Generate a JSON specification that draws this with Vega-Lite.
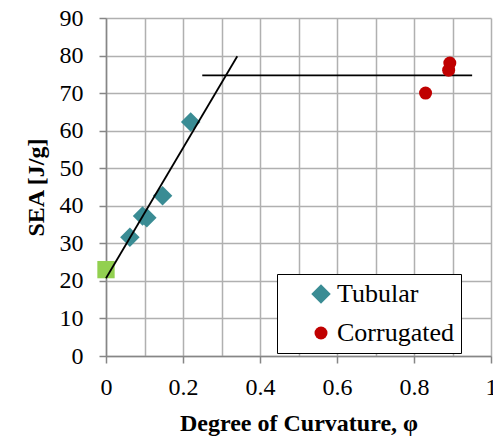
{
  "$schema": "https://vega.github.io/schema/vega-lite/v6.json",
  "width": 385,
  "height": 338,
  "autosize": "none",
  "padding": {"left": 106, "top": 18, "right": 2, "bottom": 84},
  "background": "white",
  "config": {
    "view": {"stroke": null},
    "font": "Liberation Serif",
    "legend": {"labelFont": "Liberation Serif", "labelFontSize": 26, "labelColor": "black"},
    "axis": {
      "labelFont": "Liberation Serif",
      "labelFontSize": 24,
      "labelColor": "black",
      "titleFont": "Liberation Serif",
      "titleFontSize": 24,
      "titleFontWeight": "bold",
      "titleColor": "black",
      "gridColor": "#B0B0B0",
      "gridWidth": 1.5,
      "domainColor": "#868686",
      "domainWidth": 1.5,
      "tickColor": "#868686",
      "tickWidth": 1.5,
      "tickSize": 7
    }
  },
  "datasets": {
    "points": [
      {"phi": 0, "sea": 23.0, "series": "Reference"},
      {"phi": 0.062, "sea": 31.6, "series": "Tubular"},
      {"phi": 0.095, "sea": 37.3, "series": "Tubular"},
      {"phi": 0.106, "sea": 36.8, "series": "Tubular"},
      {"phi": 0.147, "sea": 42.7, "series": "Tubular"},
      {"phi": 0.22, "sea": 62.3, "series": "Tubular"},
      {"phi": 0.83, "sea": 70.0, "series": "Corrugated"},
      {"phi": 0.89, "sea": 76.1, "series": "Corrugated"},
      {"phi": 0.893, "sea": 78.0, "series": "Corrugated"}
    ],
    "lines": [
      {"phi": 0, "sea": 20.7, "line": "fit"},
      {"phi": 0.341, "sea": 79.8, "line": "fit"},
      {"phi": 0.25, "sea": 74.7, "line": "level"},
      {"phi": 0.951, "sea": 74.7, "line": "level"}
    ]
  },
  "encoding": {
    "x": {
      "field": "phi",
      "type": "quantitative",
      "scale": {"domain": [0, 1], "nice": false, "zero": false},
      "axis": {
        "title": "Degree of Curvature, φ",
        "values": [0, 0.1, 0.2, 0.3, 0.4, 0.5, 0.6, 0.7, 0.8, 0.9, 1],
        "labelExpr": "round(datum.value*10) % 2 == 0 ? format(datum.value, '~g') : ''",
        "tickColor": {"condition": {"test": "round(datum.value*10) % 2 == 1", "value": "transparent"}, "value": "#868686"},
        "labelPadding": 12,
        "titlePadding": 12,
        "labelFlush": false,
        "labelOverlap": false
      }
    },
    "y": {
      "field": "sea",
      "type": "quantitative",
      "scale": {"domain": [0, 90], "nice": false},
      "axis": {
        "title": "SEA [J/g]",
        "values": [0, 10, 20, 30, 40, 50, 60, 70, 80, 90],
        "labelPadding": 16,
        "titlePadding": 11,
        "labelFlush": false,
        "labelOverlap": false
      }
    }
  },
  "layer": [
    {
      "data": {"name": "points"},
      "transform": [{"filter": "datum.series == 'Reference'"}],
      "mark": {"type": "point", "shape": "square", "filled": true, "opacity": 1, "color": "#92D050", "size": 300}
    },
    {
      "data": {"name": "points"},
      "transform": [{"filter": "datum.series == 'Tubular'"}],
      "mark": {"type": "point", "filled": true, "opacity": 1},
      "encoding": {
        "color": {
          "field": "series", "type": "nominal",
          "scale": {"domain": ["Tubular", "Corrugated"], "range": ["#3A8C94", "#C00000"]},
          "legend": {
            "title": null,
            "orient": "none",
            "legendX": 171,
            "legendY": 256,
            "padding": 7,
            "symbolOffset": 24,
            "labelOffset": 3,
            "rowPadding": 13,
            "labelFont": "Liberation Serif",
            "labelFontSize": 26,
            "labelColor": "black",
            "labelExpr": "datum.label + '\u00a0\u00a0\u00a0\u00a0\u00a0\u00a0\u00a0'",
            "strokeColor": "black",
            "fillColor": "white",
            "cornerRadius": 0
          }
        },
        "shape": {
          "field": "series", "type": "nominal",
          "scale": {"domain": ["Tubular", "Corrugated"], "range": ["diamond", "circle"]}
        },
        "size": {
          "field": "series", "type": "nominal",
          "scale": {"domain": ["Tubular", "Corrugated"], "range": [380, 169]}
        }
      }
    },
    {
      "data": {"name": "lines"},
      "mark": {"type": "line", "color": "black", "strokeWidth": 1.8},
      "encoding": {"detail": {"field": "line", "type": "nominal"}}
    },
    {
      "data": {"name": "points"},
      "transform": [{"filter": "datum.series == 'Corrugated'"}],
      "mark": {"type": "point", "filled": true, "opacity": 1},
      "encoding": {
        "color": {"field": "series", "type": "nominal"},
        "shape": {"field": "series", "type": "nominal"},
        "size": {"field": "series", "type": "nominal"}
      }
    }
  ]
}
